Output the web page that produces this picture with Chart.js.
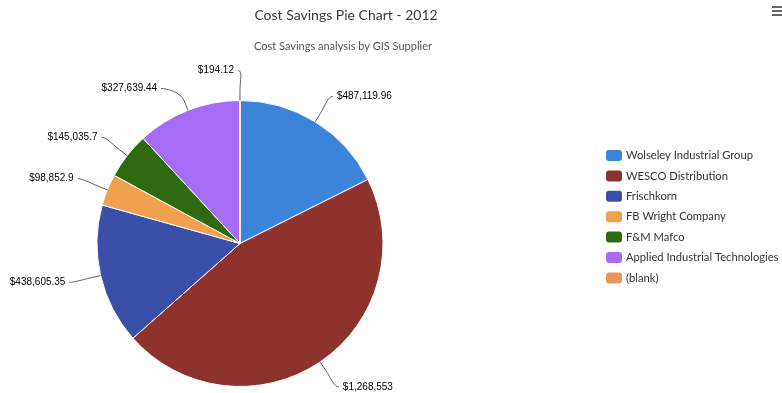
<!DOCTYPE html>
<html>
<head>
<meta charset="utf-8">
<script src="https://cdn.jsdelivr.net/npm/chart.js@4"></script>
<style>
  html, body { margin: 0; padding: 0; background: #fff; }
  #wrap { width: 782px; height: 393px; }
</style>
</head>
<body>
<div id="wrap"><canvas id="pieChart" width="782" height="393"></canvas></div>
<script>
// ===== COST SAVINGS PIE =====
const suppliers = ['Wolseley Industrial Group', 'WESCO Distribution', 'Frischkorn', 'FB Wright Company', 'F&M Mafco', 'Applied Industrial Technologies', '(blank)'];
const savings = [487119.96, 1268553, 438605.35, 98852.9, 145035.7, 327639.44, 194.12];
const sliceColors = ['#3b84d8', '#8e322e', '#3a50a8', '#f1a050', '#2e6a10', '#a76cf5', '#e9955b'];
const chartTitle = 'Cost Savings Pie Chart - 2012';
const chartSubtitle = 'Cost Savings analysis by GIS Supplier';

const money = v => '$' + v.toLocaleString('en-US', { maximumFractionDigits: 2 });

// outside labels with soft connectors (highcharts-ish), plus title + legend
const decorations = {
  id: 'decorations',
  afterDraw(chart) {
    const ctx = chart.ctx;
    const arcs = chart.getDatasetMeta(0).data;
    const dist = 30, connOffset = 10, minGap = 18;
    ctx.save();

    // work out label spots first
    const spots = arcs.map((arc, i) => {
      const { x, y, startAngle, endAngle, outerRadius } = arc.getProps(['x', 'y', 'startAngle', 'endAngle', 'outerRadius'], true);
      const mid = (startAngle + endAngle) / 2;
      const cos = Math.cos(mid), sin = Math.sin(mid);
      return {
        i, cx: x, cy: y, r: outerRadius, cos, sin,
        side: cos > 0.0001 ? 1 : -1,
        ly: y + (outerRadius + dist) * sin
      };
    });
    // push overlapping labels apart on each side
    [1, -1].forEach(side => {
      const list = spots.filter(s => s.side === side).sort((a, b) => a.ly - b.ly);
      for (let k = 1; k < list.length; k++) {
        if (list[k].ly - list[k - 1].ly < minGap) list[k].ly = list[k - 1].ly + minGap;
      }
    });

    ctx.font = '10px "Liberation Sans", Arial, sans-serif';
    ctx.textBaseline = 'middle';
    spots.forEach(s => {
      const R = s.r + dist;
      const dy = s.ly - s.cy;
      const lx = s.cx + s.side * Math.sqrt(Math.max(R * R - dy * dy, 0));
      const edge = { x: s.cx + s.r * s.cos, y: s.cy + s.r * s.sin };
      const brk = { x: s.cx + (s.r + connOffset) * s.cos, y: s.cy + (s.r + connOffset) * s.sin };
      ctx.strokeStyle = '#606060';
      ctx.lineWidth = 1;
      ctx.beginPath();
      ctx.moveTo(lx + s.side * 2, s.ly);
      ctx.bezierCurveTo(lx - s.side * 3, s.ly, 2 * brk.x - edge.x, 2 * brk.y - edge.y, brk.x, brk.y);
      ctx.lineTo(edge.x, edge.y);
      ctx.stroke();
      ctx.fillStyle = '#000';
      ctx.textAlign = s.side > 0 ? 'left' : 'right';
      ctx.fillText(money(savings[s.i]), lx + s.side * 6, s.ly);
    });

    // title and subtitle
    ctx.textAlign = 'center';
    ctx.fillStyle = '#3a3a3a';
    ctx.font = '14px Lato, sans-serif';
    ctx.fillText(chartTitle, 346, 15);
    ctx.fillStyle = '#555';
    ctx.font = '11px Lato, sans-serif';
    ctx.fillText(chartSubtitle, 343, 46.5);

    // menu icon
    ctx.strokeStyle = '#666';
    ctx.lineWidth = 2;
    [7, 11, 15].forEach(yy => {
      ctx.beginPath();
      ctx.moveTo(772, yy);
      ctx.lineTo(782, yy);
      ctx.stroke();
    });

    // legend
    ctx.textAlign = 'left';
    ctx.font = '11.2px Lato, sans-serif';
    suppliers.forEach((name, i) => {
      const ly = 155 + i * 20.4;
      ctx.fillStyle = sliceColors[i];
      ctx.beginPath();
      ctx.roundRect(606, ly - 5, 16, 11, 3);
      ctx.fill();
      ctx.fillStyle = '#333';
      ctx.fillText(name, 626, ly + 0.5);
    });
    ctx.restore();
  }
};

new Chart(document.getElementById('pieChart'), {
  type: 'pie',
  data: {
    labels: suppliers,
    datasets: [{
      data: savings,
      backgroundColor: sliceColors,
      borderColor: '#ffffff',
      borderWidth: 1
    }]
  },
  options: {
    responsive: false,
    animation: false,
    layout: { padding: { top: 100, right: 302, bottom: 6, left: 0 } },
    plugins: {
      legend: { display: false },
      tooltip: { enabled: false },
      title: { display: false }
    }
  },
  plugins: [decorations]
});
</script>
</body>
</html>
